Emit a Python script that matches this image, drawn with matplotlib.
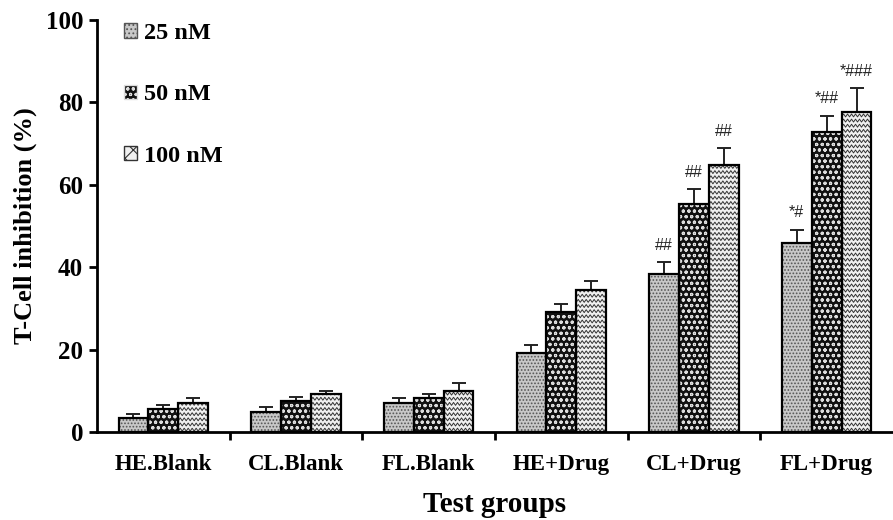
import numpy as np
import matplotlib
matplotlib.use('Agg')
from matplotlib import pyplot as plt
from matplotlib.patches import Patch

# T-cell inhibition by group and concentration
groups = ['HE.Blank', 'CL.Blank', 'FL.Blank', 'HE+Drug', 'CL+Drug', 'FL+Drug']
conc_labels = ['25 nM', '50 nM', '100 nM']
vals_25 = [3.4, 4.9, 7.0, 19.2, 38.3, 45.9]
vals_50 = [5.6, 7.5, 8.3, 29.1, 55.3, 72.8]
vals_100 = [7.0, 9.2, 10.0, 34.5, 64.8, 77.6]
err_25 = [1.0, 1.2, 1.2, 1.9, 2.9, 3.2]
err_50 = [1.0, 1.0, 1.0, 2.1, 3.6, 4.0]
err_100 = [1.2, 0.8, 1.8, 2.2, 4.1, 5.8]
marks_25 = ['', '', '', '', '##', '*#']
marks_50 = ['', '', '', '', '##', '*##']
marks_100 = ['', '', '', '', '##', '*###']

plt.rcParams['font.family'] = ['Liberation Serif', 'DejaVu Serif']
plt.rcParams['hatch.linewidth'] = 0.8

fig = plt.figure(figsize=(8.93, 5.2), dpi=100)
ax = fig.add_axes([0.1086, 0.169, 0.8914, 0.7925])

x = np.arange(len(groups))
w = 0.225
offs = [-w, 0, w]

def zigzag(ax, bar):
    # wavy fill for the 100 nM bars
    x0, y0 = bar.get_x(), bar.get_y()
    bw, bh = bar.get_width(), bar.get_height()
    xs = np.arange(x0, x0 + bw + 0.03, 0.015)
    amp = 0.35
    zz = np.where(np.arange(len(xs)) % 2 == 0, -amp, amp)
    for yy in np.arange(y0 + 0.6, y0 + bh + 1, 1.25):
        ln, = ax.plot(xs, yy + zz, color='#333333', lw=0.7, zorder=2.5)
        ln.set_clip_path(bar)

# 25 nM: light gray with fine dots
ax.bar(x + offs[0], vals_25, w, color='#c8c8c8', edgecolor='#555555',
       hatch='.....', lw=0, zorder=2)
ax.bar(x + offs[0], vals_25, w, fill=False, edgecolor='black', lw=1.6, zorder=3)

# 50 nM: black with white dots
ax.bar(x + offs[1], vals_50, w, color='#111111', edgecolor='#dddddd',
       hatch='ooo', lw=0, zorder=2)
ax.bar(x + offs[1], vals_50, w, fill=False, edgecolor='black', lw=1.6, zorder=3)

# 100 nM: light with zigzag
b3 = ax.bar(x + offs[2], vals_100, w, color='#f0f0f0', lw=0, zorder=2)
for b in b3:
    zigzag(ax, b)
ax.bar(x + offs[2], vals_100, w, fill=False, edgecolor='black', lw=1.6, zorder=3)

for off, v, e, m in zip(offs, [vals_25, vals_50, vals_100],
                        [err_25, err_50, err_100], [marks_25, marks_50, marks_100]):
    ax.errorbar(x + off, v, yerr=[np.zeros(len(v)), e], fmt='none',
                ecolor='#222222', elinewidth=1.4, capsize=5, capthick=1.4, zorder=1)
    for xi, vi, ei, mi in zip(x + off, v, e, m):
        if mi:
            ax.text(xi, vi + ei + 2.3, mi, ha='center', va='bottom', fontsize=11.5,
                    family='Liberation Sans', color='#222222')

ax.set_xlim(-0.5, 5.5)
ax.set_ylim(0, 100)
ax.set_yticks([0, 20, 40, 60, 80, 100])
ax.set_xticks(x)
ax.set_xticklabels(groups, fontsize=16.5, fontweight='bold')
ax.set_xticks(x[:-1] + 0.5, minor=True)
ax.tick_params(axis='x', which='major', length=0, pad=16)
ax.tick_params(axis='x', which='minor', length=6, width=2, direction='out')
ax.tick_params(axis='y', length=6, width=2, labelsize=18, pad=4)
for lab in ax.get_yticklabels():
    lab.set_fontweight('bold')

ax.spines['top'].set_visible(False)
ax.spines['right'].set_visible(False)
ax.spines['left'].set_linewidth(2)
ax.spines['bottom'].set_linewidth(2)

ax.set_ylabel('T-Cell inhibition (%)', fontsize=19, fontweight='bold', labelpad=6)
ax.set_xlabel('Test groups', fontsize=21, fontweight='bold', labelpad=11)

handles = [Patch(facecolor='#c8c8c8', edgecolor='#555555', hatch='....'),
           Patch(facecolor='#111111', edgecolor='#dddddd', hatch='ooo'),
           Patch(facecolor='#f0f0f0', edgecolor='#333333', hatch='\\\\//')]
leg = ax.legend(handles, conc_labels, loc='upper left', bbox_to_anchor=(0.006, 1.045),
                frameon=False, prop={'weight': 'bold', 'size': 17.5},
                labelspacing=1.65, handlelength=0.55, handleheight=0.55,
                handletextpad=0.3)

fig.savefig('out.png', dpi=100)
